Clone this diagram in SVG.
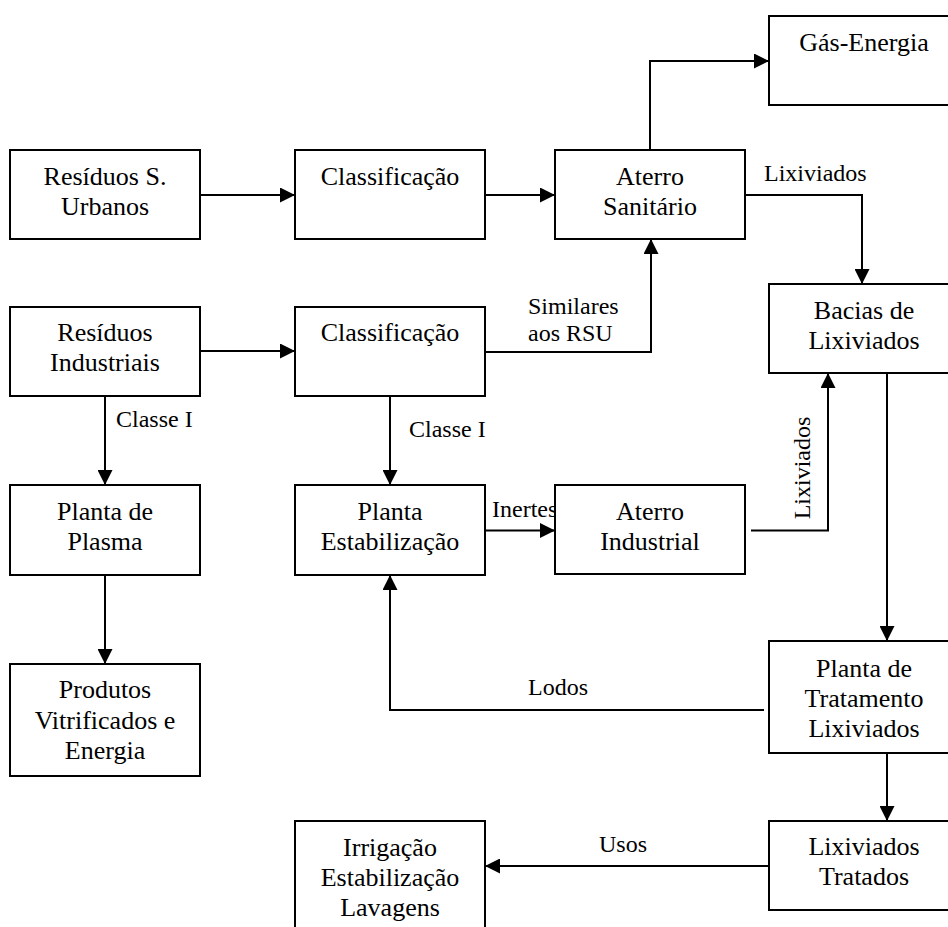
<svg xmlns="http://www.w3.org/2000/svg" width="948" height="927" viewBox="0 0 948 927">
<style>
  .box { fill: #fff; stroke: #000; stroke-width: 2; }
  .t { font-size: 26px; text-anchor: middle; fill: #000; }
  .lbl { font-size: 24px; fill: #000; }
  .c { fill: none; stroke: #000; stroke-width: 2; }
</style>
<defs>
  <marker id="ah" markerUnits="userSpaceOnUse" markerWidth="15" markerHeight="15" refX="15" refY="7.5" orient="auto">
    <path d="M0,0 L15,7.5 L0,15 Z" fill="#000"/>
  </marker>
</defs>
<rect width="948" height="927" fill="#fff"/>
<g font-family="Liberation Serif, Times New Roman, Times, DejaVu Serif, serif">
<g id="connectors">
  <path class="c" d="M200,195 H295" marker-end="url(#ah)"/>
  <path class="c" d="M485,195 H555" marker-end="url(#ah)"/>
  <path class="c" d="M650,150 V61 H769" marker-end="url(#ah)"/>
  <path class="c" d="M745,195 H862 V284" marker-end="url(#ah)"/>
  <path class="c" d="M200,351 H295" marker-end="url(#ah)"/>
  <path class="c" d="M485,352 H651 V239" marker-end="url(#ah)"/>
  <path class="c" d="M105,396 V485" marker-end="url(#ah)"/>
  <path class="c" d="M390,396 V485" marker-end="url(#ah)"/>
  <path class="c" d="M485,530.5 H555" marker-end="url(#ah)"/>
  <path class="c" d="M751,530.5 H828 V373" marker-end="url(#ah)"/>
  <path class="c" d="M887,373 V641" marker-end="url(#ah)"/>
  <path class="c" d="M764,710 H390 V575" marker-end="url(#ah)"/>
  <path class="c" d="M887,753 V821" marker-end="url(#ah)"/>
  <path class="c" d="M769,866 H485" marker-end="url(#ah)"/>
  <path class="c" d="M105,575 V664" marker-end="url(#ah)"/>
  <text class="lbl" x="764" y="181">Lixiviados</text>
  <text class="lbl" x="528" y="314">Similares</text>
  <text class="lbl" x="528" y="341">aos RSU</text>
  <text class="lbl" x="116" y="427">Classe I</text>
  <text class="lbl" x="409" y="437">Classe I</text>
  <text class="lbl" x="492" y="517">Inertes</text>
  <text class="lbl" transform="translate(810,468) rotate(-90)" text-anchor="middle">Lixiviados</text>
  <text class="lbl" x="528" y="695">Lodos</text>
  <text class="lbl" x="599" y="852">Usos</text>
</g>

<g id="gas-energia">
  <rect class="box" x="769" y="16" width="190" height="89"/>
  <text class="t" x="864" y="51">Gás-Energia</text>
</g>
<g id="residuos-urbanos">
  <rect class="box" x="10" y="150" width="190" height="89"/>
  <text class="t" x="105" y="185">Resíduos S.</text>
  <text class="t" x="105" y="215">Urbanos</text>
</g>
<g id="classificacao-1">
  <rect class="box" x="295" y="150" width="190" height="89"/>
  <text class="t" x="390" y="185">Classificação</text>
</g>
<g id="aterro-sanitario">
  <rect class="box" x="555" y="150" width="190" height="89"/>
  <text class="t" x="650" y="185">Aterro</text>
  <text class="t" x="650" y="215">Sanitário</text>
</g>
<g id="residuos-industriais">
  <rect class="box" x="10" y="307" width="190" height="89"/>
  <text class="t" x="105" y="341">Resíduos</text>
  <text class="t" x="105" y="371">Industriais</text>
</g>
<g id="classificacao-2">
  <rect class="box" x="295" y="307" width="190" height="89"/>
  <text class="t" x="390" y="341">Classificação</text>
</g>
<g id="bacias">
  <rect class="box" x="769" y="284" width="190" height="89"/>
  <text class="t" x="864" y="319">Bacias de</text>
  <text class="t" x="864" y="349">Lixiviados</text>
</g>
<g id="planta-plasma">
  <rect class="box" x="10" y="485" width="190" height="90"/>
  <text class="t" x="105" y="520">Planta de</text>
  <text class="t" x="105" y="550">Plasma</text>
</g>
<g id="planta-estabilizacao">
  <rect class="box" x="295" y="485" width="190" height="90"/>
  <text class="t" x="390" y="520">Planta</text>
  <text class="t" x="390" y="550">Estabilização</text>
</g>
<g id="aterro-industrial">
  <rect class="box" x="555" y="485" width="190" height="89"/>
  <text class="t" x="650" y="520">Aterro</text>
  <text class="t" x="650" y="550">Industrial</text>
</g>
<g id="produtos">
  <rect class="box" x="10" y="664" width="190" height="112"/>
  <text class="t" x="105" y="698">Produtos</text>
  <text class="t" x="105" y="729">Vitrificados e</text>
  <text class="t" x="105" y="759">Energia</text>
</g>
<g id="planta-tratamento">
  <rect class="box" x="769" y="641" width="190" height="112"/>
  <text class="t" x="864" y="677">Planta de</text>
  <text class="t" x="864" y="707">Tratamento</text>
  <text class="t" x="864" y="737">Lixiviados</text>
</g>
<g id="irrigacao">
  <rect class="box" x="295" y="821" width="190" height="120"/>
  <text class="t" x="390" y="856">Irrigação</text>
  <text class="t" x="390" y="886">Estabilização</text>
  <text class="t" x="390" y="916">Lavagens</text>
</g>
<g id="lixiviados-tratados">
  <rect class="box" x="769" y="821" width="190" height="89"/>
  <text class="t" x="864" y="855">Lixiviados</text>
  <text class="t" x="864" y="885">Tratados</text>
</g>
</g>
</svg>
